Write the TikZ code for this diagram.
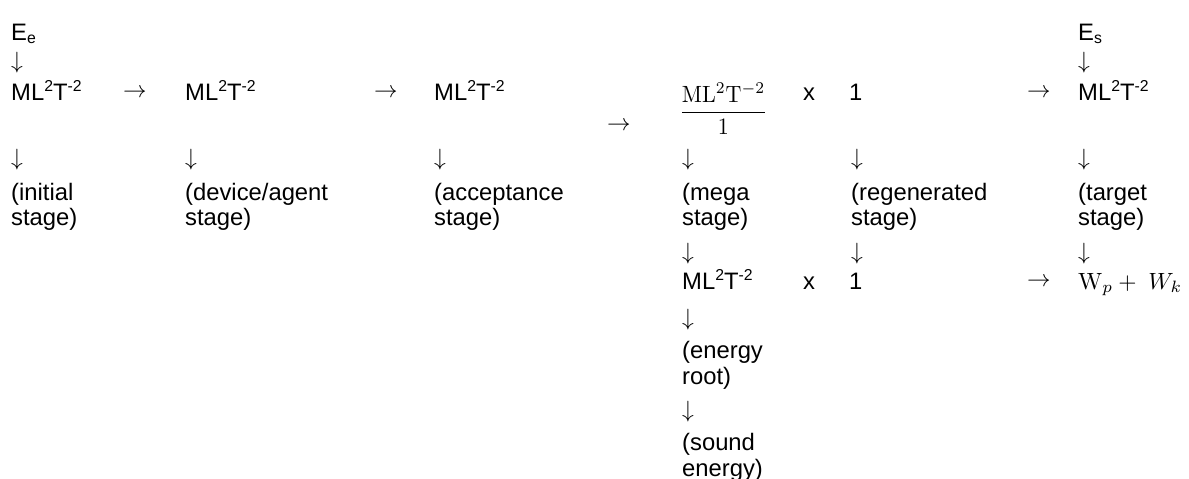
\documentclass[tikz,border=0pt]{standalone}
\usepackage{amsmath}
\usepackage{graphicx}
\usepackage[no-math]{fontspec}
\setmainfont{Liberation Sans}
\newcommand\myup[1]{\raisebox{9pt}{\fontsize{15.8}{15.8}\selectfont #1}}
\newcommand\mydn[1]{\raisebox{-3pt}{\fontsize{15.8}{15.8}\selectfont #1}}
\newcommand\MLT{ML\myup{2}T\myup{-2}}
\newcommand\mth[1]{\scalebox{2.35}{\normalsize$#1$}}
\newcommand\da{\mth{\downarrow}}
\newcommand\ra{\mth{\rightarrow}}
\begin{document}
\begin{tikzpicture}[x=1pt,y=-1pt,
  txt/.style={anchor=base west, inner sep=0pt, font=\fontsize{23.8}{28}\selectfont},
  arr/.style={anchor=west, inner sep=0pt, font=\fontsize{23.8}{28}\selectfont}]
\useasboundingbox (0,0) rectangle (1189,479);
% column 1
\node[txt] (c1e) at (11,40) {E\mydn{e}};
\node[arr] (c1a) at (11,63) {\da};
\node[txt] (c1m) at (11,100) {\MLT};
\node[arr] (c1b) at (11,160) {\da};
\node[txt] (c1t1) at (11,200) {(initial};
\node[txt] (c1t2) at (11,225) {stage)};
\node[arr] (r1) at (123,93) {\ra};
% column 2
\node[txt] (c2m) at (185,100) {\MLT};
\node[arr] (c2b) at (185,160) {\da};
\node[txt] (c2t1) at (185,200) {(device/agent};
\node[txt] (c2t2) at (185,225) {stage)};
\node[arr] (r2) at (374,93) {\ra};
% column 3
\node[txt] (c3m) at (434,100) {\MLT};
\node[arr] (c3b) at (434,160) {\da};
\node[txt] (c3t1) at (434,200) {(acceptance};
\node[txt] (c3t2) at (434,225) {stage)};
\node[arr] (r3) at (607,126) {\ra};
% column 4
\node[txt] (frac) at (679,118) {\scalebox{2.2}[2.35]{\normalsize$\dfrac{\mathrm{ML^2T^{-2}}}{1}$}};
\node[arr] (c4b) at (682,160) {\da};
\node[txt] (c4t1) at (682,200) {(mega};
\node[txt] (c4t2) at (682,225) {stage)};
\node[arr] (c4c) at (682,254) {\da};
\node[txt] (c4m) at (682,289) {\MLT};
\node[arr] (c4d) at (682,320) {\da};
\node[txt] (c4e1) at (682,358) {(energy};
\node[txt] (c4e2) at (682,384) {root)};
\node[arr] (c4f) at (682,412) {\da};
\node[txt] (c4s1) at (682,450) {(sound};
\node[txt] (c4s2) at (682,476) {energy)};
% x column
\node[txt] (x1) at (803,100) {x};
\node[txt] (x2) at (803,289) {x};
% column 5
\node[txt] (c5o) at (849,100) {1};
\node[arr] (c5b) at (851,160) {\da};
\node[txt] (c5t1) at (851,200) {(regenerated};
\node[txt] (c5t2) at (851,225) {stage)};
\node[arr] (c5c) at (851,254) {\da};
\node[txt] (c5p) at (849,289) {1};
\node[arr] (r4) at (1027,93) {\ra};
\node[arr] (r5) at (1027,282) {\ra};
% column 6
\node[txt] (c6e) at (1078,40) {E\mydn{s}};
\node[arr] (c6a) at (1078,63) {\da};
\node[txt] (c6m) at (1078,100) {\MLT};
\node[arr] (c6b) at (1078,160) {\da};
\node[txt] (c6t1) at (1078,200) {(target};
\node[txt] (c6t2) at (1078,225) {stage)};
\node[arr] (c6c) at (1078,254) {\da};
\node[txt] (c6w) at (1078,289) {\mth{\mathrm{W}_p +\ W_k}};
\end{tikzpicture}
\end{document}
